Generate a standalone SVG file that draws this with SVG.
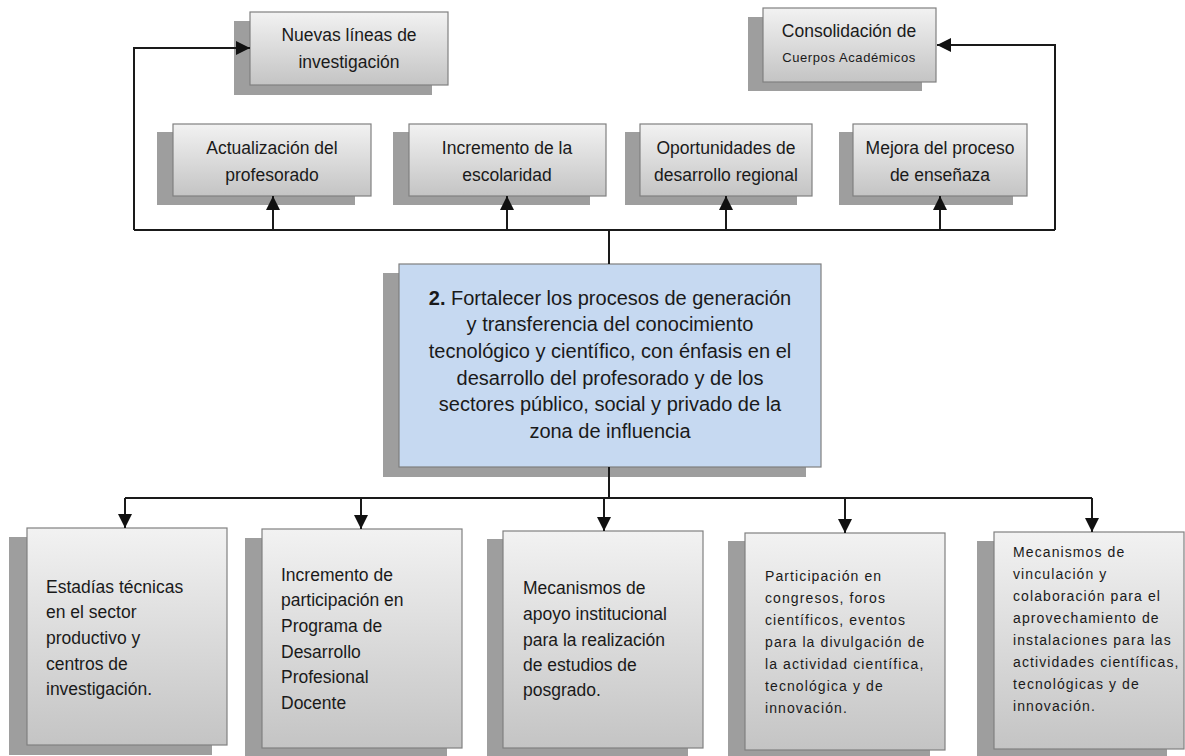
<svg xmlns="http://www.w3.org/2000/svg" width="1185" height="756" viewBox="0 0 1185 756">
<defs>
<linearGradient id="g" x1="0" y1="0" x2="0" y2="1">
<stop offset="0" stop-color="#f2f2f2"/>
<stop offset="1" stop-color="#c4c4c4"/>
</linearGradient>
<marker id="ah" viewBox="0 0 14 14" refX="14" refY="7" markerWidth="14" markerHeight="14" orient="auto" markerUnits="userSpaceOnUse">
<path d="M0,0 L14,7 L0,14 z" fill="#111"/>
</marker>
<style>
.sh{fill:#9e9e9e}
.bx{fill:url(#g);stroke:#808080;stroke-width:1.2}
.cb{fill:#c6d9f1;stroke:#7f7f7f;stroke-width:1.2}
.t{font-family:"Liberation Sans",Arial,sans-serif;font-size:17.5px;fill:#1a1a1a}
.c{text-anchor:middle}
.s{font-size:14px;letter-spacing:1.1px}
.m{font-size:20px;text-anchor:middle}
.ln{fill:none;stroke:#1a1a1a;stroke-width:2}
.ar{marker-end:url(#ah)}
</style>
</defs>
<rect width="1185" height="756" fill="#fff"/>

<g id="n-nuevas">
<rect class="sh" x="234" y="21" width="198" height="74"/>
<rect class="bx" x="250" y="12" width="198" height="73"/>
<text class="t c" x="349" y="41">Nuevas líneas de</text>
<text class="t c" x="349" y="68">investigación</text>
</g>
<g id="n-consolidacion">
<rect class="sh" x="748" y="17" width="174" height="74"/>
<rect class="bx" x="763" y="8" width="173" height="74"/>
<text class="t c" x="849" y="37">Consolidación de</text>
<text class="t c" x="849" y="62" style="font-size:13px;letter-spacing:0.6px">Cuerpos Académicos</text>
</g>
<g id="n-actualizacion">
<rect class="sh" x="157" y="132" width="198" height="73"/>
<rect class="bx" x="173" y="124" width="198" height="72"/>
<text class="t c" x="272" y="154">Actualización del</text>
<text class="t c" x="272" y="181">profesorado</text>
</g>
<g id="n-incremento">
<rect class="sh" x="393" y="132" width="197" height="73"/>
<rect class="bx" x="409" y="124" width="197" height="72"/>
<text class="t c" x="507" y="154">Incremento de la</text>
<text class="t c" x="507" y="181">escolaridad</text>
</g>
<g id="n-oportunidades">
<rect class="sh" x="625" y="132" width="172" height="73"/>
<rect class="bx" x="640" y="124" width="172" height="72"/>
<text class="t c" x="726" y="154">Oportunidades de</text>
<text class="t c" x="726" y="181">desarrollo regional</text>
</g>
<g id="n-mejora">
<rect class="sh" x="839" y="132" width="174" height="73"/>
<rect class="bx" x="853" y="124" width="174" height="72"/>
<text class="t c" x="940" y="154">Mejora del proceso</text>
<text class="t c" x="940" y="181">de enseñaza</text>
</g>

<g id="n-central">
<rect class="sh" x="383" y="273" width="423" height="204"/>
<rect class="cb" x="399" y="264" width="422" height="203"/>
<text class="t m" x="610" y="305"><tspan font-weight="bold">2.</tspan> Fortalecer los procesos de generación</text>
<text class="t m" x="610" y="331">y transferencia del conocimiento</text>
<text class="t m" x="610" y="358">tecnológico y científico, con énfasis en el</text>
<text class="t m" x="610" y="385">desarrollo del profesorado y de los</text>
<text class="t m" x="610" y="411">sectores público, social y privado de la</text>
<text class="t m" x="610" y="438">zona de influencia</text>
</g>

<g id="n-estadias">
<rect class="sh" x="9" y="537" width="203" height="218"/>
<rect class="bx" x="27" y="528" width="200" height="217"/>
<text class="t" x="46" y="593">Estadías técnicas</text>
<text class="t" x="46" y="618">en el sector</text>
<text class="t" x="46" y="644">productivo y</text>
<text class="t" x="46" y="670">centros de</text>
<text class="t" x="46" y="695">investigación.</text>
</g>
<g id="n-programa">
<rect class="sh" x="245" y="538" width="202" height="218"/>
<rect class="bx" x="262" y="529" width="200" height="219"/>
<text class="t" x="281" y="581">Incremento de</text>
<text class="t" x="281" y="606">participación en</text>
<text class="t" x="281" y="632">Programa de</text>
<text class="t" x="281" y="658">Desarrollo</text>
<text class="t" x="281" y="683">Profesional</text>
<text class="t" x="281" y="709">Docente</text>
</g>
<g id="n-posgrado">
<rect class="sh" x="487" y="539" width="201" height="217"/>
<rect class="bx" x="503" y="531" width="200" height="217"/>
<text class="t" x="523" y="594">Mecanismos de</text>
<text class="t" x="523" y="620">apoyo institucional</text>
<text class="t" x="523" y="646">para la realización</text>
<text class="t" x="523" y="671">de estudios de</text>
<text class="t" x="523" y="696">posgrado.</text>
</g>
<g id="n-congresos">
<rect class="sh" x="728" y="541" width="202" height="215"/>
<rect class="bx" x="745" y="533" width="200" height="217"/>
<text class="t s" x="765" y="581">Participación en</text>
<text class="t s" x="765" y="603">congresos, foros</text>
<text class="t s" x="765" y="625">científicos, eventos</text>
<text class="t s" x="765" y="647">para la divulgación de</text>
<text class="t s" x="765" y="669">la actividad científica,</text>
<text class="t s" x="765" y="691">tecnológica y de</text>
<text class="t s" x="765" y="713">innovación.</text>
</g>
<g id="n-vinculacion">
<rect class="sh" x="977" y="541" width="190" height="215"/>
<rect class="bx" x="994" y="532" width="190" height="217"/>
<text class="t s" x="1013" y="557">Mecanismos de</text>
<text class="t s" x="1013" y="579">vinculación y</text>
<text class="t s" x="1013" y="601">colaboración para el</text>
<text class="t s" x="1013" y="623">aprovechamiento de</text>
<text class="t s" x="1013" y="645">instalaciones para las</text>
<text class="t s" x="1013" y="667">actividades científicas,</text>
<text class="t s" x="1013" y="689">tecnológicas y de</text>
<text class="t s" x="1013" y="711">innovación.</text>
</g>

<g id="connectors">
<path class="ln" d="M134,230 H1055"/>
<path class="ln ar" d="M134,230 V48 H250"/>
<path class="ln ar" d="M1055,230 V45 H937"/>
<path class="ln ar" d="M273,230 V196"/>
<path class="ln ar" d="M507,230 V196"/>
<path class="ln ar" d="M726,230 V196"/>
<path class="ln ar" d="M940,230 V196"/>
<path class="ln" d="M609,230 V264"/>
<path class="ln" d="M609,467 V498"/>
<path class="ln" d="M125,498 H1092"/>
<path class="ln ar" d="M125,498 V528"/>
<path class="ln ar" d="M361,498 V529"/>
<path class="ln ar" d="M604,498 V531"/>
<path class="ln ar" d="M845,498 V533"/>
<path class="ln ar" d="M1092,498 V532"/>
</g>
</svg>
